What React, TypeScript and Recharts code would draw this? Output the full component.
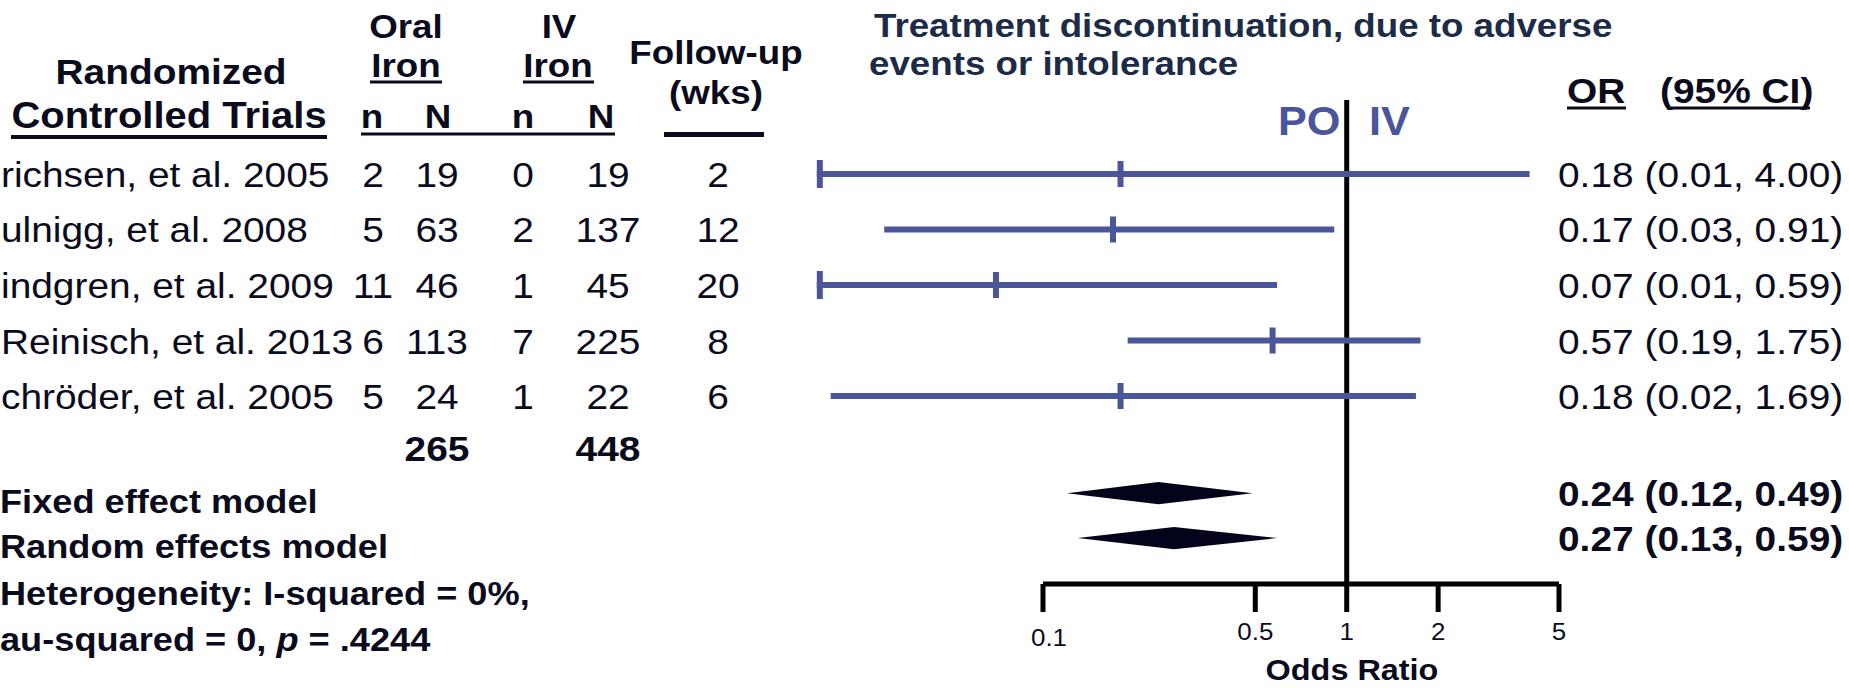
import React from "react";
import {
  ComposedChart,
  XAxis,
  YAxis,
  ReferenceLine,
  ReferenceDot,
  Scatter,
} from "recharts";

const FONT = "'Liberation Sans', Arial, Helvetica, sans-serif";
const INK = "#0b0b1e";
const NAVY = "#1b2b48";
const CI_BLUE = "#4a5699";
const PO_BLUE = "#4b559d";
const DIAMOND = "#03031c";
const SX = 1.08; // the source image is slightly stretched sideways

// ---- data (study names as far as the crop shows them) ----
const studies = [
  "richsen, et al. 2005",
  "ulnigg, et al. 2008",
  "indgren, et al. 2009",
  "Reinisch, et al. 2013",
  "chröder, et al. 2005",
];
const oralEvents = [2, 5, 11, 6, 5];
const oralTotal = [19, 63, 46, 113, 24];
const ivEvents = [0, 2, 1, 7, 1];
const ivTotal = [19, 137, 45, 225, 22];
const followUpWeeks = [2, 12, 20, 8, 6];
const oddsRatio = [0.18, 0.17, 0.07, 0.57, 0.18];
const ciLower = [0.01, 0.03, 0.01, 0.19, 0.02];
const ciUpper = [4.0, 0.91, 0.59, 1.75, 1.69];

const summaryLabels = ["Fixed effect model", "Random effects model"];
const summaryOR = [0.24, 0.27];
const summaryLower = [0.12, 0.13];
const summaryUpper = [0.49, 0.59];

const sampleTotals = [265, 448];
const axisTicks = [0.1, 0.5, 1, 2, 5];

// ---- layout ----
const STUDY_ROWS = studies.map((_, i) => i + 1);
const SUMMARY_ROWS = [6.75, 7.56];
const ROW_TICKS = [...STUDY_ROWS, ...SUMMARY_ROWS];
const X_CLIP = 0.018; // CI lines are cut (with a cap) below this
const DIAMOND_H = 0.2;
const COL = { name: 1, oralN: 373, oralTot: 437, ivN: 523, ivTot: 608, wks: 718, or: 1558 };

const fmt = (v: number) => v.toFixed(2);
const orText = (or: number, lo: number, hi: number) =>
  `${fmt(or)} (${fmt(lo)}, ${fmt(hi)})`;

const T = ({ x, y, size, anchor = "start", bold = false, fill = INK, children }: any) => (
  <text
    transform={`translate(${x} ${y}) scale(${SX} 1)`}
    fontSize={size}
    fontFamily={FONT}
    fontWeight={bold ? 700 : 400}
    textAnchor={anchor}
    fill={fill}
  >
    {children}
  </text>
);

const RowTick = (props: any) => {
  const { y, payload } = props;
  const idx = ROW_TICKS.indexOf(payload.value);
  if (idx < 0) return null;
  if (idx < studies.length) {
    const b = y + 13;
    return (
      <g>
        <T x={COL.name} y={b} size={36}>{studies[idx]}</T>
        <T x={COL.oralN} y={b} size={36} anchor="middle">{oralEvents[idx]}</T>
        <T x={COL.oralTot} y={b} size={36} anchor="middle">{oralTotal[idx]}</T>
        <T x={COL.ivN} y={b} size={36} anchor="middle">{ivEvents[idx]}</T>
        <T x={COL.ivTot} y={b} size={36} anchor="middle">{ivTotal[idx]}</T>
        <T x={COL.wks} y={b} size={36} anchor="middle">{followUpWeeks[idx]}</T>
        <T x={COL.or} y={y + 13} size={36}>
          {orText(oddsRatio[idx], ciLower[idx], ciUpper[idx])}
        </T>
      </g>
    );
  }
  const s = idx - studies.length;
  return (
    <g>
      <T x={0} y={y + 20} size={33.5} bold>{summaryLabels[s]}</T>
      <T x={COL.or} y={y + 13} size={36} bold>
        {orText(summaryOR[s], summaryLower[s], summaryUpper[s])}
      </T>
    </g>
  );
};

const AxisTick = (props: any) => {
  const { x, y, payload } = props;
  const first = payload.value === axisTicks[0];
  return (
    <T x={x + (first ? 6 : 0)} y={y + 17 + (first ? 6 : 0)} size={24} anchor="middle">
      {payload.value}
    </T>
  );
};

const CiShape = (p: any) => {
  const { x1, y1, x2, y2, capped } = p;
  return (
    <g>
      <line x1={x1} y1={y1} x2={x2} y2={y2} stroke={CI_BLUE} strokeWidth={6} />
      {capped && (
        <line x1={x1 + 3} x2={x1 + 3} y1={y1 - 14} y2={y1 + 14} stroke={CI_BLUE} strokeWidth={6} />
      )}
    </g>
  );
};

const EstimateTick = (p: any) => (
  <line x1={p.cx} x2={p.cx} y1={p.cy - 13} y2={p.cy + 13} stroke={CI_BLUE} strokeWidth={6} />
);

const Overlay = () => (
  <svg
    width={1849}
    height={688}
    style={{ position: "absolute", left: 0, top: 0, pointerEvents: "none" }}
  >
    {/* left table header */}
    <T x={171} y={84} size={36} bold anchor="middle">Randomized</T>
    <T x={169} y={128} size={37} bold anchor="middle">Controlled Trials</T>
    <line x1={11} x2={327} y1={137} y2={137} stroke={INK} strokeWidth={4} />

    <T x={406} y={38} size={34} bold anchor="middle">Oral</T>
    <T x={406} y={77} size={34} bold anchor="middle">Iron</T>
    <line x1={370} x2={442} y1={82} y2={82} stroke={INK} strokeWidth={3} />
    <T x={559} y={38} size={34} bold anchor="middle">IV</T>
    <T x={558} y={77} size={34} bold anchor="middle">Iron</T>
    <line x1={523} x2={594} y1={82} y2={82} stroke={INK} strokeWidth={3} />

    <T x={372} y={128} size={34} bold anchor="middle">n</T>
    <T x={438} y={128} size={34} bold anchor="middle">N</T>
    <T x={523} y={128} size={34} bold anchor="middle">n</T>
    <T x={601} y={128} size={34} bold anchor="middle">N</T>
    <line x1={361} x2={615} y1={134} y2={134} stroke={INK} strokeWidth={3} />

    <T x={716} y={64} size={34} bold anchor="middle">Follow-up</T>
    <T x={716} y={104} size={34} bold anchor="middle">(wks)</T>
    <line x1={664} x2={764} y1={134.5} y2={134.5} stroke={INK} strokeWidth={5} />

    {/* totals and heterogeneity */}
    <T x={COL.oralTot} y={461} size={36} bold anchor="middle">{sampleTotals[0]}</T>
    <T x={COL.ivTot} y={461} size={36} bold anchor="middle">{sampleTotals[1]}</T>
    <T x={0} y={605} size={33.5} bold>Heterogeneity: I-squared = 0%,</T>
    <T x={0} y={651} size={33.5} bold>
      au-squared = 0, <tspan fontStyle="italic">p</tspan> = .4244
    </T>

    {/* title */}
    <T x={874} y={37} size={34} bold fill={NAVY}>Treatment discontinuation, due to adverse</T>
    <T x={869} y={75} size={34} bold fill={NAVY}>events or intolerance</T>

    {/* OR header */}
    <T x={1567} y={103} size={36} bold>OR</T>
    <line x1={1567} x2={1626} y1={108} y2={108} stroke={INK} strokeWidth={3} />
    <T x={1660} y={103} size={36} bold>(95% CI)</T>
    <line x1={1671} x2={1810} y1={108} y2={108} stroke={INK} strokeWidth={3} />

    <T x={1278} y={135} size={40} bold fill={PO_BLUE}>PO</T>
    <T x={1369} y={135} size={40} bold fill={PO_BLUE}>IV</T>

    <T x={1352} y={680} size={30} bold anchor="middle">Odds Ratio</T>
  </svg>
);

export default function App() {
  return (
    <div
      style={{
        position: "absolute",
        left: 0,
        top: 0,
        width: 1849,
        height: 688,
        overflow: "hidden",
        background: "#fff",
      }}
    >
      <ComposedChart
        width={1849}
        height={688}
        data={[]}
        margin={{ top: 100, right: 290, bottom: 0, left: 0 }}
      >
        <XAxis
          type="number"
          dataKey="x"
          scale="log"
          domain={[0.1, 5]}
          allowDataOverflow
          ticks={axisTicks}
          interval={0}
          height={104}
          tickSize={28}
          tickMargin={11}
          axisLine={{ stroke: "#000", strokeWidth: 5 }}
          tickLine={{ stroke: "#000", strokeWidth: 5 }}
          tick={<AxisTick />}
        />
        <YAxis
          type="number"
          dataKey="y"
          domain={[-0.333, 8.387]}
          reversed
          allowDataOverflow
          width={1043}
          ticks={ROW_TICKS}
          interval={0}
          axisLine={false}
          tickLine={false}
          tick={<RowTick />}
        />
        <ReferenceLine x={1} stroke="#000" strokeWidth={5} />
        {oddsRatio.map((or, i) => (
          <ReferenceLine
            key={`ci-${i}`}
            segment={[
              { x: Math.max(ciLower[i], X_CLIP), y: STUDY_ROWS[i] },
              { x: ciUpper[i], y: STUDY_ROWS[i] },
            ]}
            ifOverflow="visible"
            shape={(p: any) => <CiShape {...p} capped={ciLower[i] < X_CLIP} />}
          />
        ))}
        {oddsRatio.map((or, i) => (
          <ReferenceDot
            key={`est-${i}`}
            x={or}
            y={STUDY_ROWS[i]}
            ifOverflow="visible"
            shape={EstimateTick}
          />
        ))}
        {summaryOR.map((or, s) => {
          const r = SUMMARY_ROWS[s];
          const pts = [
            { x: summaryLower[s], y: r },
            { x: or, y: r - DIAMOND_H },
            { x: summaryUpper[s], y: r },
            { x: or, y: r + DIAMOND_H },
          ];
          return (
            <Scatter
              key={`diamond-${s}`}
              data={pts}
              isAnimationActive={false}
              fill={DIAMOND}
              shape={() => <g />}
              line={(lp: any) => (
                <polygon
                  points={lp.points.map((q: any) => `${q.x},${q.y}`).join(" ")}
                  fill={DIAMOND}
                  stroke="none"
                />
              )}
            />
          );
        })}
      </ComposedChart>
      <Overlay />
    </div>
  );
}
